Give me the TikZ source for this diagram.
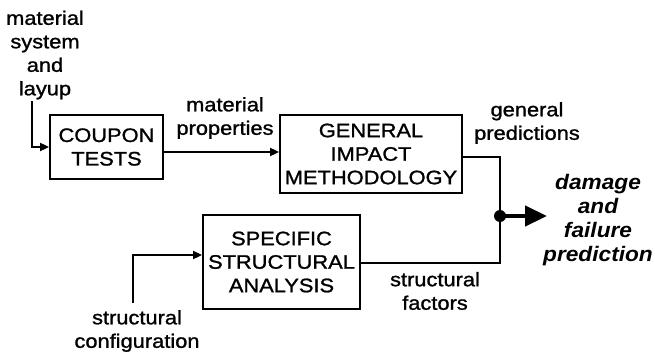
\documentclass[tikz,border=0pt]{standalone}
\usepackage{fontspec}
\setmainfont{Liberation Sans}[FakeStretch=1.12,FakeBold=1.2]
\newfontfamily\dfpfont{Liberation Sans}[FakeStretch=1.08,BoldFont={* Bold},ItalicFont={* Italic},BoldItalicFont={* Bold Italic}]
\usetikzlibrary{arrows.meta}
\begin{document}
\begin{tikzpicture}[x=1pt,y=-1pt,
  font=\fontsize{19.5}{23.5}\selectfont,
  blk/.style={draw,line width=1.8pt,align=center,inner sep=0pt},
  lbl/.style={align=center,inner sep=0pt},
  conn/.style={line width=1.8pt},
  arr/.style={conn,-{Triangle[length=9pt,width=8pt]}},
  bigarr/.style={line width=4.5pt,-{Triangle[length=22pt,width=20pt]}}]
\useasboundingbox (0,0) rectangle (655,356);
% blocks
\node[blk,minimum width=113pt,minimum height=64pt] (coupon) at (106.5,147) {COUPON\\TESTS};
\node[blk,minimum width=182pt,minimum height=78pt] (gim) at (371,154) {GENERAL\\IMPACT\\METHODOLOGY};
\node[blk,minimum width=157pt,minimum height=94pt] (ssa) at (281.5,262) {SPECIFIC\\STRUCTURAL\\ANALYSIS};
% labels
\node[lbl] (msl) at (45,55) {material\\system\\and\\layup};
\node[lbl] (mp) at (225,118) {material\\properties};
\node[lbl] (gp) at (527,123) {general\\predictions};
\node[lbl] (sf) at (435,291) {structural\\factors};
\node[lbl] (sc) at (137,331) {structural\\configuration};
\node[lbl,font=\dfpfont\fontsize{21}{24}\selectfont\bfseries\itshape] (dfp) at (598,220) {damage\\and\\failure\\prediction};
% coordinates
\coordinate (msltail) at (32,101);
\coordinate (sctail) at (133,303);
\coordinate (j) at (500,216);
\coordinate (tip) at (547,216);
% connectors
\draw[arr] (msltail) |- (coupon.west);
\draw[arr] (coupon.east |- 0,152) -- (gim.west |- 0,152);
\draw[conn] (gim.east |- 0,157) -| (j) |- (ssa.east |- 0,263);
\draw[arr] (sctail) |- (ssa.west |- 0,255);
\fill (j) circle (6pt);
\draw[bigarr] (j) -- (tip);
\end{tikzpicture}
\end{document}
